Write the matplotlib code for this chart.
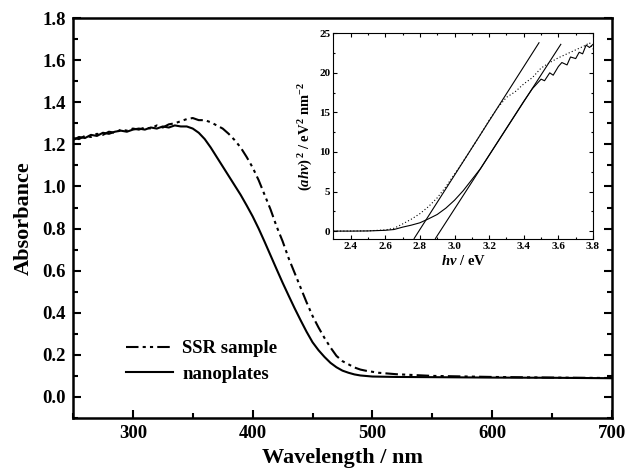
import matplotlib
matplotlib.use('Agg')
import matplotlib.pyplot as plt
from matplotlib.ticker import MultipleLocator, FormatStrFormatter

plt.rcParams['font.family'] = 'Liberation Serif'
plt.rcParams['font.weight'] = 'bold'
plt.rcParams['mathtext.fontset'] = 'custom'
plt.rcParams['mathtext.rm'] = 'Liberation Serif:bold'
plt.rcParams['mathtext.it'] = 'Liberation Serif:italic:bold'

# main UV-vis spectra
wl_nano = [250, 255, 260, 265, 270, 275, 280, 285, 290, 295, 300, 305, 310, 315, 320,
           325, 330, 335, 340, 345, 350, 355, 360, 365, 370, 375, 380, 385, 390, 395,
           400, 405, 410, 415, 420, 425, 430, 435, 440, 445, 450, 455, 460, 465, 470,
           475, 480, 485, 490, 500, 520, 550, 600, 650, 700]
abs_nano = [1.22, 1.235, 1.23, 1.245, 1.24, 1.255, 1.25, 1.26, 1.265, 1.26, 1.27, 1.275, 1.27, 1.28, 1.275,
            1.285, 1.28, 1.29, 1.285, 1.285, 1.275, 1.255, 1.225, 1.185, 1.14, 1.095, 1.05, 1.005, 0.96, 0.91,
            0.858, 0.80, 0.737, 0.672, 0.607, 0.543, 0.482, 0.422, 0.365, 0.31, 0.26, 0.222, 0.19, 0.162, 0.141,
            0.125, 0.115, 0.107, 0.102, 0.097, 0.095, 0.094, 0.092, 0.091, 0.089]

wl_ssr = [250, 255, 260, 265, 270, 275, 280, 285, 290, 295, 300, 305, 310, 315, 320,
          325, 330, 335, 340, 345, 350, 355, 360, 365, 370, 375, 380, 385, 390, 395,
          400, 405, 410, 415, 420, 425, 430, 435, 440, 445, 450, 455, 460, 465, 470,
          475, 480, 485, 490, 495, 505, 520, 550, 600, 650, 700]
abs_ssr = [1.23, 1.225, 1.24, 1.235, 1.25, 1.245, 1.26, 1.255, 1.27, 1.265, 1.275, 1.27, 1.28, 1.275, 1.29,
           1.28, 1.295, 1.30, 1.31, 1.32, 1.325, 1.315, 1.315, 1.305, 1.29, 1.275, 1.25, 1.22, 1.185, 1.14,
           1.09, 1.03, 0.96, 0.89, 0.81, 0.74, 0.66, 0.59, 0.52, 0.45, 0.385, 0.33, 0.28, 0.235, 0.195,
           0.17, 0.155, 0.14, 0.13, 0.124, 0.115, 0.108, 0.10, 0.095, 0.092, 0.09]

# inset Tauc plot
ev_nano = [2.30, 2.40, 2.50, 2.60, 2.65, 2.70, 2.75, 2.80, 2.85, 2.90, 2.95, 3.00, 3.05, 3.10, 3.15,
           3.20, 3.25, 3.30, 3.35, 3.40, 3.45, 3.50, 3.52, 3.55, 3.57, 3.60, 3.62, 3.65, 3.67, 3.70,
           3.72, 3.74, 3.76, 3.78, 3.80]
tauc_nano = [0, 0, 0.02, 0.1, 0.2, 0.5, 0.75, 1.05, 1.55, 2.1, 2.9, 3.9, 5.1, 6.5, 7.9,
             9.6, 11.3, 13.0, 14.7, 16.4, 18.0, 19.2, 19.0, 20.0, 19.7, 20.8, 21.3, 21.0, 22.0, 21.8,
             22.6, 22.4, 23.5, 23.2, 23.6]
ev_ssr = [2.30, 2.50, 2.60, 2.65, 2.70, 2.75, 2.80, 2.85, 2.90, 2.95, 3.00, 3.05, 3.10, 3.15, 3.20,
          3.25, 3.30, 3.35, 3.40, 3.45, 3.50, 3.55, 3.60, 3.65, 3.70, 3.75, 3.78, 3.80]
tauc_ssr = [0, 0.03, 0.15, 0.35, 0.9, 1.5, 2.2, 3.1, 4.2, 5.6, 7.2, 8.8, 10.5, 12.2, 14.0,
            15.6, 16.9, 17.6, 18.6, 19.4, 20.6, 21.3, 21.9, 22.4, 22.9, 23.4, 23.8, 23.0]
# tangent (fit) lines
fit_ssr_x = [2.767, 3.488]
fit_ssr_y = [-0.93, 23.8]
fit_nano_x = [2.89, 3.614]
fit_nano_y = [-0.93, 23.6]

fig = plt.figure(figsize=(6.27, 4.75), dpi=100)
ax = fig.add_axes([0.1164, 0.12, 0.8596, 0.842])

dashdotdot = (0, (6, 2, 1.5, 2, 1.5, 2))
ax.plot(wl_ssr, abs_ssr, color='black', lw=1.5, linestyle=dashdotdot, label='SSR sample')
ax.plot(wl_nano, abs_nano, color='black', lw=1.5, label='nanoplates')

ax.set_xlim(250, 700)
ax.set_ylim(-0.1, 1.8)
ax.xaxis.set_major_locator(MultipleLocator(100))
ax.xaxis.set_minor_locator(MultipleLocator(50))
ax.yaxis.set_major_locator(MultipleLocator(0.2))
ax.yaxis.set_minor_locator(MultipleLocator(0.1))
ax.yaxis.set_major_formatter(FormatStrFormatter('%.1f'))
ax.tick_params(which='both', direction='in', top=False, right=True, width=1.5, labelsize=13.5)
ax.tick_params(which='major', length=6, pad=5)
ax.tick_params(which='minor', length=3.5)
for s in ax.spines.values():
    s.set_linewidth(1.8)
ax.set_xlabel('Wavelength / nm', fontsize=16, fontweight='bold', labelpad=4)
ax.set_ylabel('Absorbance', fontsize=16, fontweight='bold', labelpad=6)

ax.legend(loc='center left', bbox_to_anchor=(0.098, 0.141), frameon=False, fontsize=13.5,
          borderpad=0, borderaxespad=0, handlelength=2.5, handletextpad=0.5, labelspacing=0.45)

# inset
ins = fig.add_axes([0.5316, 0.4968, 0.4142, 0.4332])
ins.plot(ev_ssr, tauc_ssr, color='black', lw=0.8, linestyle=(0, (1, 2)))
ins.plot(ev_nano, tauc_nano, color='black', lw=0.8)
ins.plot(fit_ssr_x, fit_ssr_y, color='black', lw=0.8)
ins.plot(fit_nano_x, fit_nano_y, color='black', lw=0.8)
ins.set_xlim(2.3, 3.8)
ins.set_ylim(-1, 25)
ins.xaxis.set_major_locator(MultipleLocator(0.2))
ins.xaxis.set_minor_locator(MultipleLocator(0.1))
ins.yaxis.set_major_locator(MultipleLocator(5))
ins.yaxis.set_minor_locator(MultipleLocator(2.5))
ins.xaxis.set_major_formatter(FormatStrFormatter('%.1f'))
ins.tick_params(which='both', direction='in', top=True, right=True, width=0.8, labelsize=8, pad=2)
ins.tick_params(which='major', length=3)
ins.tick_params(which='minor', length=1.5)
for lbl in ins.get_xticklabels() + ins.get_yticklabels():
    lbl.set_fontweight('bold')
for s in ins.spines.values():
    s.set_linewidth(0.8)
ins.set_xlabel(r'$\mathit{h}\nu$ / eV', fontsize=10.5, fontweight='bold', labelpad=2)
ins.set_ylabel(r'$(\mathit{ah}\nu)^{\,2}$ / eV$^{2}$ nm$^{-2}$', fontsize=10.5,
               fontweight='bold', labelpad=3)

fig.savefig('out.png', dpi=100)
